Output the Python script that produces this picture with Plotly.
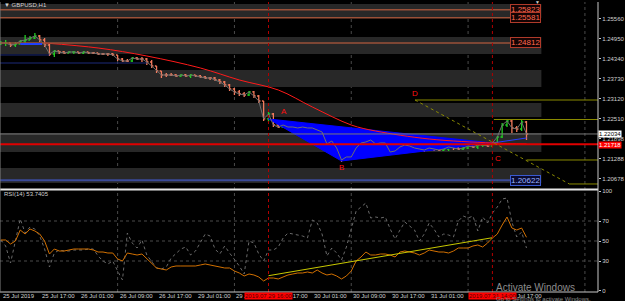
import plotly.graph_objects as go

# ---------------- data ----------------
bars = list(range(109))
close = [1.24812, 1.24812, 1.24751, 1.24781, 1.24873, 1.24903, 1.24964, 1.25025, 1.24903, 1.24751,
         1.24476, 1.24568, 1.24537, 1.24507, 1.24537, 1.24537, 1.24507, 1.24537, 1.24507, 1.24507,
         1.24476, 1.24476, 1.24476, 1.24446, 1.24324, 1.24262, 1.24262, 1.24354, 1.24324, 1.24324,
         1.24232, 1.24110, 1.23957, 1.23835, 1.23835, 1.23835, 1.23805, 1.23835, 1.23805, 1.23835,
         1.23805, 1.23774, 1.23744, 1.23744, 1.23683, 1.23622, 1.23530, 1.23408, 1.23317, 1.23256,
         1.23225, 1.23317, 1.23194, 1.23042, 1.22493, 1.22645, 1.22309, 1.22248, 1.22309, 1.22248,
         1.22248, 1.22218, 1.22248, 1.22218, 1.22218, 1.22157, 1.22096, 1.21730, 1.21821, 1.21607,
         1.21241, 1.21333, 1.21333, 1.21607, 1.21760, 1.21791, 1.21852, 1.21730, 1.21760, 1.21760,
         1.21485, 1.21516, 1.21638, 1.21699, 1.21668, 1.21607, 1.21577, 1.21546, 1.21607, 1.21577,
         1.21546, 1.21577, 1.21638, 1.21607, 1.21577, 1.21607, 1.21668, 1.21638, 1.21699, 1.21699,
         1.21668, 1.21760, 1.21943, 1.22309, 1.22431, 1.22218, 1.22187, 1.22401, 1.22035]
high = [1.24873, 1.24903, 1.24812, 1.24842, 1.24903, 1.25056, 1.25025, 1.25117, 1.25056, 1.24964,
        1.24781, 1.24598, 1.24568, 1.24568, 1.24568, 1.24568, 1.24537, 1.24568, 1.24537, 1.24537,
        1.24507, 1.24507, 1.24507, 1.24507, 1.24446, 1.24354, 1.24324, 1.24385, 1.24385, 1.24385,
        1.24354, 1.24293, 1.24110, 1.23957, 1.23896, 1.23896, 1.23866, 1.23866, 1.23866, 1.23866,
        1.23835, 1.23835, 1.23805, 1.23774, 1.23774, 1.23713, 1.23652, 1.23561, 1.23439, 1.23378,
        1.23317, 1.23347, 1.23347, 1.23225, 1.23042, 1.22706, 1.22676, 1.22370, 1.22370, 1.22309,
        1.22279, 1.22248, 1.22279, 1.22248, 1.22248, 1.22248, 1.22187, 1.22126, 1.21852, 1.21821,
        1.21638, 1.21363, 1.21394, 1.21668, 1.21821, 1.21882, 1.21943, 1.21852, 1.21821, 1.21821,
        1.21791, 1.21577, 1.21668, 1.21760, 1.21730, 1.21699, 1.21638, 1.21607, 1.21638, 1.21638,
        1.21607, 1.21607, 1.21668, 1.21638, 1.21638, 1.21638, 1.21699, 1.21668, 1.21730, 1.21760,
        1.21760, 1.21821, 1.21974, 1.22370, 1.22493, 1.22493, 1.22279, 1.22462, 1.22431]
low = [1.24751, 1.24720, 1.24690, 1.24690, 1.24781, 1.24812, 1.24903, 1.24934, 1.24842, 1.24690,
       1.24415, 1.24385, 1.24476, 1.24476, 1.24507, 1.24476, 1.24476, 1.24476, 1.24476, 1.24476,
       1.24446, 1.24446, 1.24415, 1.24415, 1.24262, 1.24232, 1.24232, 1.24232, 1.24293, 1.24232,
       1.24140, 1.24049, 1.23896, 1.23744, 1.23774, 1.23805, 1.23774, 1.23774, 1.23774, 1.23744,
       1.23774, 1.23744, 1.23713, 1.23683, 1.23652, 1.23561, 1.23469, 1.23347, 1.23225, 1.23194,
       1.23164, 1.23194, 1.23133, 1.22981, 1.22431, 1.22401, 1.22248, 1.22218, 1.22218, 1.22218,
       1.22218, 1.22187, 1.22187, 1.22187, 1.22157, 1.22126, 1.22065, 1.21668, 1.21668, 1.21546,
       1.21180, 1.21241, 1.21272, 1.21302, 1.21577, 1.21699, 1.21760, 1.21668, 1.21699, 1.21699,
       1.21394, 1.21424, 1.21485, 1.21607, 1.21607, 1.21546, 1.21546, 1.21485, 1.21516, 1.21516,
       1.21516, 1.21516, 1.21516, 1.21546, 1.21546, 1.21546, 1.21577, 1.21607, 1.21577, 1.21638,
       1.21638, 1.21668, 1.21699, 1.21913, 1.22248, 1.22065, 1.22096, 1.22126, 1.21852]
first_open = 1.24781
open_ = [first_open] + close[:-1]

ma_bar = [9, 20, 30, 41, 49, 57, 64, 72, 77, 88, 101, 108]
ma_val = [1.24812, 1.24659, 1.24415, 1.24049, 1.23683, 1.23378, 1.22859, 1.22309, 1.22126, 1.21882, 1.21760, 1.21730]

# pattern points A, B, C
pat_bar = [55, 70, 101]
pat_val = [1.22493, 1.21211, 1.21760]
pat_names = ["A", "B", "C"]

rsi_fast = [51, 45, 28, 50, 72, 58, 64, 62, 55, 42, 24, 38, 41, 40, 40, 41, 41, 41, 42, 42,
            35, 30, 27, 30, 20, 11, 58, 48, 43, 51, 36, 29, 23, 22, 24, 33, 38, 42, 44, 36,
            40, 49, 57, 55, 42, 37, 45, 38, 32, 25, 17, 50, 48, 37, 30, 41, 41, 44, 53, 58,
            57, 56, 55, 53, 71, 68, 57, 35, 43, 38, 31, 44, 62, 80, 84, 88, 73, 74, 73, 74,
            62, 52, 61, 69, 65, 61, 50, 57, 68, 62, 54, 57, 56, 54, 70, 75, 73, 75, 60, 74,
            68, 78, 84, 92, 93, 69, 54, 59, 43]
rsi = [51, 51, 47, 50, 61, 57, 62, 60, 57, 50, 37, 42, 40, 40, 41, 42, 42, 42, 42, 41,
       39, 39, 38, 38, 32, 30, 38, 37, 36, 37, 32, 27, 23, 22, 21, 24, 25, 25, 25, 25,
       25, 26, 27, 26, 25, 24, 23, 23, 20, 18, 15, 17, 16, 14, 10, 13, 13, 12, 14, 16,
       17, 18, 18, 19, 18, 21, 18, 16, 17, 15, 12, 15, 20, 30, 34, 39, 36, 36, 37, 37,
       36, 34, 39, 40, 39, 38, 36, 38, 41, 40, 39, 39, 38, 40, 43, 43, 43, 45, 46, 44,
       48, 53, 57, 66, 74, 63, 61, 63, 53.7405]
rsi_trend_bar = [55, 101]
rsi_trend_val = [15.3, 53.3]

time_label_bars = [0, 8, 16, 24, 32, 40, 48, 56, 64, 72, 80, 88, 96, 104]
time_labels = ["25 Jul 2019", "25 Jul 17:00", "26 Jul 01:00", "26 Jul 09:00", "26 Jul 17:00",
               "29 Jul 01:00", "29 Jul 09:00", "29 Jul 17:00", "30 Jul 01:00", "30 Jul 09:00",
               "30 Jul 17:00", "31 Jul 01:00", "31 Jul 09:00", "31 Jul 17:00"]
grid_bars = [24, 48, 72, 96, 120]
sep_bars = [55, 101]
sep_labels = ["2019.07.29 16:00", "2019.07.31 14:00"]

price_ticks = [1.20678, 1.21288, 1.21898, 1.22510, 1.23120, 1.23730, 1.24340, 1.24950, 1.25560]
price_tick_text = ["1.20678", "1.21288", "1.21898", "1.22510", "1.23120", "1.23730", "1.24340", "1.24950", "1.25560"]
rsi_ticks = [0, 30, 50, 70, 100]

band_lo = [1.25575, 1.24476, 1.23469, 1.22554, 1.21485, 1.20539]
band_hi = [1.26002, 1.24995, 1.23988, 1.22981, 1.22065, 1.20997]
band_end = 111.06

level_vals = [1.25823, 1.25581, 1.24812]
level_texts = ["1.25823", "1.25581", "1.24812"]
blue_level = 1.20622
blue_level_text = "1.20622"
bid_price = 1.22035
bid_text = "1.22034"
red_level = 1.21718
red_level_text = "1.21718"

fib_start_bar = 85.1
fib_end_bar = 116.8
fib_levels = [1.23072, 1.22477, 1.21241, 1.20509]
fib_level_start = [85.1, 101.3, 108.0, 116.8]
D_point = (85.1, 1.23256)

XMIN, XMAX = -0.163, 122.69
YMIN, YMAX = 1.20356, 1.26063

FONT = "Liberation Sans"
TXT = "#d0d0d0"

fig = go.Figure()

# blue pattern triangle
fig.add_trace(go.Scatter(x=pat_bar + [pat_bar[0]], y=pat_val + [pat_val[0]], mode="lines",
                         fill="toself", fillcolor="#0000ff", line=dict(color="#0000ff", width=1),
                         hoverinfo="skip"))
fig.add_trace(go.Scatter(x=[pat_bar[2], bars[-1]], y=[pat_val[2], 1.21913], mode="lines",
                         line=dict(color="#2a3cff", width=1), hoverinfo="skip"))
# close line
fig.add_trace(go.Scatter(x=bars, y=close, mode="lines", line=dict(color="#6e6e6e", width=1),
                         hoverinfo="skip"))
fig.add_trace(go.Ohlc(x=bars, open=open_, high=high, low=low, close=close,
                      increasing=dict(line=dict(color="#22cc22", width=1.3)),
                      decreasing=dict(line=dict(color="#f47a5c", width=1.3)),
                      tickwidth=0.35, hoverinfo="skip"))
fig.add_trace(go.Scatter(x=ma_bar, y=ma_val, mode="lines",
                         line=dict(color="#ff1a1a", width=1, shape="spline"), hoverinfo="skip"))

# RSI panel
fig.add_trace(go.Scatter(x=bars, y=rsi_fast, mode="lines", xaxis="x2", yaxis="y2",
                         line=dict(color="#6a6a6a", width=1, dash="dot"), hoverinfo="skip"))
fig.add_trace(go.Scatter(x=bars, y=rsi, mode="lines", xaxis="x2", yaxis="y2",
                         line=dict(color="#d27000", width=1), hoverinfo="skip"))
fig.add_trace(go.Scatter(x=rsi_trend_bar, y=rsi_trend_val, mode="lines", xaxis="x2", yaxis="y2",
                         line=dict(color="#c8c800", width=1), hoverinfo="skip"))

shapes = []
for lo, hi in zip(band_lo, band_hi):
    shapes.append(dict(type="rect", xref="x", yref="y", x0=XMIN, x1=band_end, y0=lo, y1=hi,
                       fillcolor="#282828", line=dict(width=0), layer="below"))
for gb in grid_bars:
    shapes.append(dict(type="line", xref="x", yref="paper", x0=gb, x1=gb, y0=0, y1=1,
                       line=dict(color="#4a4a4a", width=1, dash="dot"), layer="below"))
for v in [30, 50, 70]:
    shapes.append(dict(type="line", xref="paper", yref="y2", x0=0, x1=1, y0=v, y1=v,
                       line=dict(color="#4a4a4a", width=1, dash="dot"), layer="below"))
for lv in level_vals:
    shapes.append(dict(type="line", xref="x", yref="y", x0=XMIN, x1=105.3, y0=lv, y1=lv,
                       line=dict(color="#9a5038", width=1.5)))
shapes.append(dict(type="line", xref="x", yref="y", x0=XMIN, x1=105.3, y0=blue_level, y1=blue_level,
                   line=dict(color="#3a4a9a", width=2)))
# small navy/blue lines at left
shapes.append(dict(type="line", xref="x", yref="y", x0=4, x1=8.5, y0=1.24781, y1=1.24781,
                   line=dict(color="#2040ff", width=2)))
shapes.append(dict(type="line", xref="x", yref="y", x0=XMIN, x1=10, y0=1.24446, y1=1.24446,
                   line=dict(color="#1c2b7a", width=1)))
shapes.append(dict(type="line", xref="x", yref="y", x0=XMIN, x1=30, y0=1.24201, y1=1.24201,
                   line=dict(color="#1c2b7a", width=1)))
# bid line and red level
shapes.append(dict(type="line", xref="paper", yref="y", x0=0, x1=1, y0=bid_price, y1=bid_price,
                   line=dict(color="#7a7a7a", width=1)))
shapes.append(dict(type="line", xref="paper", yref="y", x0=0, x1=1, y0=red_level, y1=red_level,
                   line=dict(color="#e00000", width=2)))
# fib/olive lines
for lv, st in zip(fib_levels, fib_level_start):
    shapes.append(dict(type="line", xref="x", yref="y", x0=st, x1=XMAX, y0=lv, y1=lv,
                       line=dict(color="#8a8a00", width=1)))
shapes.append(dict(type="line", xref="x", yref="y", x0=fib_start_bar, x1=fib_end_bar,
                   y0=fib_levels[0], y1=fib_levels[-1], line=dict(color="#8a8a00", width=1, dash="dot")))
# red vertical separators
for sb in sep_bars:
    shapes.append(dict(type="line", xref="x", yref="paper", x0=sb, x1=sb, y0=0, y1=1,
                       line=dict(color="#b00000", width=1, dash="dot")))
# frame
shapes.append(dict(type="line", xref="paper", yref="paper", x0=0, x1=1, y0=0.3534, y1=0.3534,
                   line=dict(color="#e6e6e6", width=2)))
shapes.append(dict(type="line", xref="paper", yref="paper", x0=1, x1=1, y0=0, y1=1,
                   line=dict(color="#c8c8c8", width=1)))
shapes.append(dict(type="line", xref="paper", yref="paper", x0=0, x1=1, y0=0, y1=0,
                   line=dict(color="#c8c8c8", width=1)))
shapes.append(dict(type="line", xref="paper", yref="paper", x0=0, x1=0, y0=0, y1=1,
                   line=dict(color="#808080", width=1)))

ann = []
ann.append(dict(text="▼ GBPUSD,H1", xref="paper", yref="paper", x=0.004, y=0.9897,
                xanchor="left", yanchor="middle", showarrow=False, font=dict(size=6, color=TXT, family=FONT)))
ann.append(dict(text="▼", xref="paper", yref="paper", x=0.8987, y=0.999,
                xanchor="center", yanchor="middle", showarrow=False, font=dict(size=5, color=TXT, family=FONT)))
ann.append(dict(text="RSI(14) 53.7405", xref="paper", yref="paper", x=0.004, y=0.3379,
                xanchor="left", yanchor="middle", showarrow=False, font=dict(size=6, color=TXT, family=FONT)))
for b, t in zip(time_label_bars, time_labels):
    ann.append(dict(text=t, xref="x", yref="paper", x=b, y=-0.0155, xanchor="left", yanchor="middle",
                    showarrow=False, font=dict(size=6, color=TXT, family=FONT)))
for b, t in zip(sep_bars, sep_labels):
    ann.append(dict(text=t, xref="x", yref="paper", x=b, y=-0.0155, xanchor="center", yanchor="middle",
                    showarrow=False, bgcolor="#ff0000", borderpad=0,
                    font=dict(size=6, color="#500000", family=FONT)))
for lv, t in zip(level_vals, level_texts):
    ann.append(dict(text=t, xref="x", yref="y", x=band_end, y=lv, xanchor="right", yanchor="middle",
                    showarrow=False, bgcolor="#140404", bordercolor="#b03a2a", borderwidth=1, borderpad=0,
                    font=dict(size=8, color="#ff6a50", family=FONT)))
ann.append(dict(text=blue_level_text, xref="x", yref="y", x=band_end, y=blue_level, xanchor="right",
                yanchor="middle", showarrow=False, bgcolor="#0a0a30", bordercolor="#3a5ad0", borderwidth=1,
                borderpad=0, font=dict(size=8, color="#9ab4ff", family=FONT)))
ann.append(dict(text=bid_text, xref="paper", yref="y", x=1.0, y=bid_price, xanchor="left", yanchor="middle",
                showarrow=False, bgcolor="#ffffff", borderpad=0, font=dict(size=6, color="#000000", family=FONT)))
ann.append(dict(text=red_level_text, xref="paper", yref="y", x=1.0, y=red_level - 0.0003, xanchor="left",
                yanchor="middle", showarrow=False, bgcolor="#ff0000", borderpad=0,
                font=dict(size=6, color="#ffffff", family=FONT)))
label_pos = [(58.2, 1.22706), (70.0, 1.20997), (102.1, 1.21302)]
for (lb, lp), nm in zip(label_pos, pat_names):
    ann.append(dict(text=nm, xref="x", yref="y", x=lb, y=lp, showarrow=False,
                    font=dict(size=8, color="#ff1010", family=FONT)))
ann.append(dict(text="D", xref="x", yref="y", x=D_point[0], y=D_point[1], showarrow=False,
                font=dict(size=8, color="#ff1010", family=FONT)))
ann.append(dict(text="Activate Windows", xref="paper", yref="paper", x=0.8256, y=0.0172,
                xanchor="left", yanchor="middle", showarrow=False,
                font=dict(size=10, color="#8c8c8c", family=FONT)))
ann.append(dict(text="Go to Settings to activate Windows.", xref="paper", yref="paper", x=0.8256, y=-0.024,
                xanchor="left", yanchor="middle", showarrow=False,
                font=dict(size=6, color="#8c8c8c", family=FONT)))

fig.update_layout(
    width=625, height=301, margin=dict(l=0, r=23, t=2, b=9),
    paper_bgcolor="#000000", plot_bgcolor="#000000", showlegend=False,
    xaxis=dict(domain=[0, 1], range=[XMIN, XMAX], showgrid=False, zeroline=False,
               showticklabels=False, rangeslider=dict(visible=False), anchor="y", fixedrange=True),
    xaxis2=dict(domain=[0, 1], range=[XMIN, XMAX], showgrid=False, zeroline=False,
                showticklabels=False, anchor="y2", matches="x"),
    yaxis=dict(domain=[0.3552, 1], range=[YMIN, YMAX], side="right", showgrid=False, zeroline=False,
               tickvals=price_ticks, ticktext=price_tick_text, ticks="outside", ticklen=2,
               tickcolor="#c8c8c8", tickfont=dict(size=6, color=TXT, family=FONT), anchor="x"),
    yaxis2=dict(domain=[0, 0.3517], range=[-1, 101], side="right", showgrid=False, zeroline=False,
                tickvals=rsi_ticks, ticktext=[str(v) for v in rsi_ticks], ticks="outside", ticklen=2,
                tickcolor="#c8c8c8", tickfont=dict(size=6, color=TXT, family=FONT), anchor="x2"),
    shapes=shapes, annotations=ann,
)

fig.write_html("out.html", config={"displayModeBar": False})
